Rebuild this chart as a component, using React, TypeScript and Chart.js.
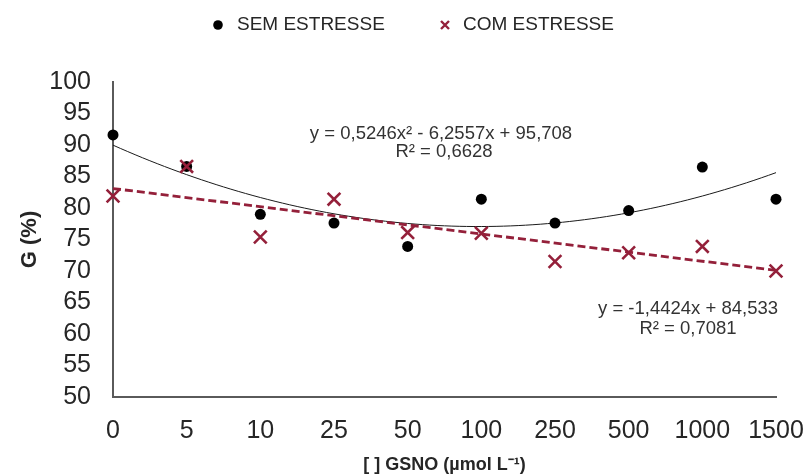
import React, { useEffect, useRef } from "react";
import { Chart, registerables } from "chart.js";

Chart.register(...registerables);

// GSNO concentrations (µmol L-1)
const categories = ["0", "5", "10", "25", "50", "100", "250", "500", "1000", "1500"];
// Germination (%) without stress
const semEstresse = [91.6, 86.6, 79.0, 77.6, 73.9, 81.4, 77.6, 79.6, 86.5, 81.4];
// Germination (%) with stress
const comEstresse = [81.9, 86.6, 75.4, 81.4, 76.1, 76.0, 71.5, 72.9, 73.9, 70.0];

// Fitted trend lines (x = category position 1..10)
const polyCoefs = [0.5246, -6.2557, 95.708]; // a x² + b x + c
const linCoefs = [-1.4424, 84.533]; // m x + q
const polyLabel = ["y = 0,5246x² - 6,2557x + 95,708", "R² = 0,6628"];
const linLabel = ["y = -1,4424x + 84,533", "R² = 0,7081"];

const seriesNames = ["SEM ESTRESSE", "COM ESTRESSE"];
const yTicks = { min: 50, max: 100, step: 5 };

const FONT = "'Liberation Sans', Arial, Helvetica, sans-serif";
const RED = "#94203a";
const TEXT = "#262626";

export default function App() {
  const ref = useRef<HTMLCanvasElement | null>(null);

  useEffect(() => {
    document.body.style.margin = "0";
    const canvas = ref.current;
    if (!canvas) return;

    const polyCurve: { x: number; y: number }[] = [];
    for (let i = 0; i <= 90; i++) {
      const x = 1 + i / 10;
      polyCurve.push({ x, y: polyCoefs[0] * x * x + polyCoefs[1] * x + polyCoefs[2] });
    }
    const linLine = [1, categories.length].map((x) => ({ x, y: linCoefs[0] * x + linCoefs[1] }));

    const legendAndLabels = {
      id: "legendAndLabels",
      afterDraw(chart: Chart) {
        const ctx = chart.ctx;
        ctx.save();
        // legend
        ctx.font = `19px ${FONT}`;
        ctx.textBaseline = "middle";
        ctx.textAlign = "left";
        ctx.fillStyle = "#000";
        ctx.beginPath();
        ctx.arc(218, 25, 4.8, 0, Math.PI * 2);
        ctx.fill();
        ctx.fillStyle = TEXT;
        ctx.fillText(seriesNames[0], 237, 25);
        ctx.strokeStyle = RED;
        ctx.lineWidth = 2.4;
        ctx.beginPath();
        ctx.moveTo(441, 21);
        ctx.lineTo(449, 29);
        ctx.moveTo(449, 21);
        ctx.lineTo(441, 29);
        ctx.stroke();
        ctx.fillText(seriesNames[1], 463, 25);

        // trend-line equations
        ctx.font = `18.5px ${FONT}`;
        ctx.textAlign = "center";
        ctx.fillStyle = "#333";
        ctx.fillText(polyLabel[0], 441, 134);
        ctx.fillText(polyLabel[1], 444, 152);
        ctx.fillText(linLabel[0], 688, 309);
        ctx.fillText(linLabel[1], 688, 329);
        ctx.restore();
      },
    };

    const chart = new Chart(canvas, {
      type: "scatter",
      data: {
        datasets: [
          {
            label: seriesNames[1],
            data: comEstresse.map((y, i) => ({ x: i + 1, y })),
            pointStyle: "crossRot",
            pointRadius: 9,
            pointBorderWidth: 2.6,
            borderColor: RED,
            backgroundColor: RED,
            order: 0,
          },
          {
            label: seriesNames[0],
            data: semEstresse.map((y, i) => ({ x: i + 1, y })),
            pointStyle: "circle",
            pointRadius: 5.5,
            pointBorderWidth: 0,
            borderColor: "#000",
            backgroundColor: "#000",
            order: 1,
          },
          {
            type: "line",
            label: "poly",
            data: polyCurve,
            borderColor: "#1a1a1a",
            borderWidth: 1,
            pointRadius: 0,
            tension: 0,
            fill: false,
            order: 3,
          },
          {
            type: "line",
            label: "linear",
            data: linLine,
            borderColor: RED,
            borderWidth: 2.8,
            borderDash: [8, 4],
            pointRadius: 0,
            fill: false,
            order: 2,
          },
        ],
      },
      options: {
        animation: false,
        responsive: false,
        clip: false as any,
        layout: { padding: { top: 82, right: 32, left: 0, bottom: 0 } },
        plugins: {
          legend: { display: false },
          tooltip: { enabled: false },
        },
        scales: {
          x: {
            type: "linear",
            min: 1,
            max: categories.length,
            offset: false,
            grid: { display: false, drawTicks: false },
            border: { display: true, color: "#5a5a5a", width: 2 },
            ticks: {
              stepSize: 1,
              autoSkip: false,
              maxRotation: 0,
              padding: 4,
              color: TEXT,
              font: { family: FONT, size: 25, lineHeight: 2.4 },
              callback: (v: any) => categories[Number(v) - 1] ?? "",
            },
            title: {
              display: true,
              text: "[ ] GSNO (µmol L⁻¹)",
              color: TEXT,
              font: { family: FONT, size: 18, weight: "bold" },
              padding: { top: 0, bottom: 0 },
            },
            afterFit: (scale: any) => {
              scale.height = 79;
            },
          },
          y: {
            min: yTicks.min,
            max: yTicks.max,
            grid: { display: false, drawTicks: false },
            border: { display: true, color: "#5a5a5a", width: 2 },
            ticks: {
              stepSize: yTicks.step,
              autoSkip: false,
              padding: 22,
              color: TEXT,
              font: { family: FONT, size: 25, lineHeight: 1 },
            },
            title: {
              display: true,
              text: "G (%)",
              color: TEXT,
              font: { family: FONT, size: 22, weight: "bold" },
              padding: { top: 17, bottom: 0 },
            },
            afterFit: (scale: any) => {
              scale.width = 113;
            },
          },
        },
      },
      plugins: [legendAndLabels],
    });

    return () => chart.destroy();
  }, []);

  return (
    <div style={{ width: 808, height: 476, background: "#fff" }}>
      <canvas ref={ref} width={808} height={476} />
    </div>
  );
}
